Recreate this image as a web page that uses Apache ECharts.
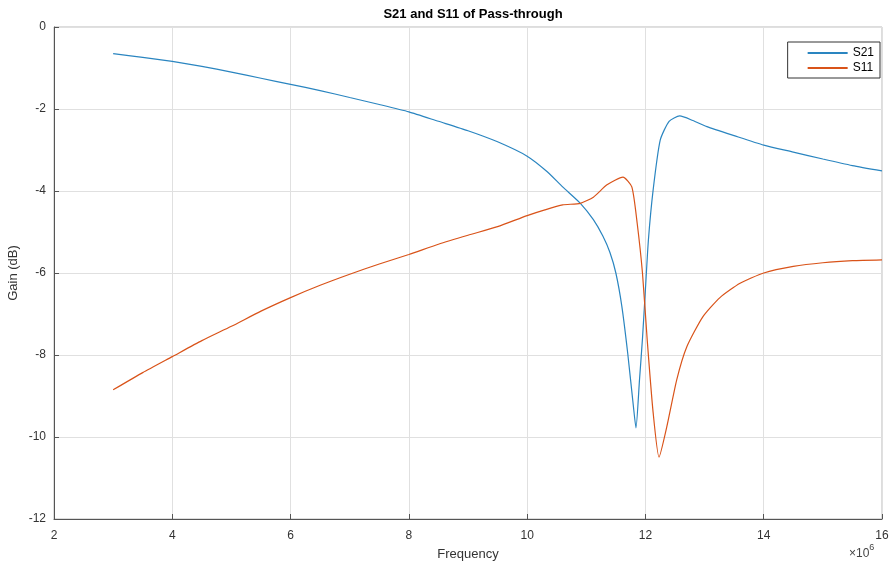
<!DOCTYPE html>
<html>
<head>
<meta charset="utf-8">
<script src="https://cdn.jsdelivr.net/npm/echarts@6/dist/echarts.min.js"></script>
<style>html,body{margin:0;padding:0;background:#fff}#c{width:890px;height:568px}</style>
</head>
<body>
<div id="c"></div>
<script>
// Frequency in units of 10^6
const freqS21 = [3,3.5,4,4.5,5,5.5,6,6.5,7,7.5,8,8.5,9,9.5,10,10.34,10.6,10.9,11.12,11.28,11.4,11.5,11.6,11.7,11.8,11.84,11.9,11.95,12.0,12.05,12.13,12.25,12.4,12.58,12.8,13.04,13.5,14,14.5,15,15.5,16];
const gainS21 = [-0.65,-0.74,-0.84,-0.96,-1.1,-1.25,-1.40,-1.55,-1.72,-1.89,-2.07,-2.3,-2.53,-2.8,-3.15,-3.53,-3.9,-4.3,-4.7,-5.1,-5.5,-6.0,-6.8,-7.95,-9.3,-9.78,-8.6,-7.6,-6.4,-5.2,-3.98,-2.76,-2.3,-2.17,-2.28,-2.43,-2.65,-2.88,-3.05,-3.22,-3.38,-3.51];
const freqS11 = [3,3.5,4,4.5,5,5.5,6,6.5,7,7.5,8,8.5,9,9.5,10,10.3,10.6,10.9,11.12,11.35,11.62,11.77,11.86,11.95,12.03,12.13,12.23,12.36,12.53,12.7,12.97,13.26,13.6,14,14.5,15,15.5,16];
const gainS11 = [-8.85,-8.43,-8.04,-7.65,-7.3,-6.93,-6.6,-6.3,-6.03,-5.78,-5.55,-5.3,-5.08,-4.87,-4.6,-4.46,-4.34,-4.3,-4.15,-3.85,-3.66,-3.9,-4.78,-6.0,-7.63,-9.4,-10.49,-9.76,-8.6,-7.8,-7.07,-6.6,-6.25,-6.0,-5.84,-5.75,-5.7,-5.68];
const xTicks = [2,4,6,8,10,12,14,16];
const yTicks = [-12,-10,-8,-6,-4,-2,0];

const chart = echarts.init(document.getElementById('c'));
const ff = '"Liberation Sans", Arial, sans-serif';
chart.setOption({
  animation: false,
  backgroundColor: '#fff',
  title: {
    text: 'S21 and S11 of Pass-through',
    left: 468, top: 3, textAlign: 'center',
    textStyle: {fontFamily: ff, fontSize: 13, fontWeight: 'bold', color: '#000'}
  },
  legend: {
    orient: 'vertical', right: 10, top: 42,
    borderColor: '#333', borderWidth: 1, backgroundColor: '#fff',
    padding: [5, 6, 4, 20], itemGap: 3,
    itemWidth: 40, itemHeight: 2, icon: 'rect',
    textStyle: {fontFamily: ff, fontSize: 12, color: '#000'},
    data: ['S21', 'S11']
  },
  grid: {left: 54, right: 8, top: 27, bottom: 49, outerBoundsMode: 'none', containLabel: false,
         show: true, borderColor: '#bbb', borderWidth: 1},
  xAxis: {
    type: 'value', min: 2, max: 16, interval: 2,
    name: 'Frequency', nameLocation: 'middle', nameGap: 29, nameMoveOverlap: false,
    nameTextStyle: {fontFamily: ff, fontSize: 13, color: '#333'},
    axisLine: {show: true, onZero: false, lineStyle: {color: '#555'}},
    axisTick: {inside: true, length: 5, lineStyle: {color: '#555'}},
    axisLabel: {fontFamily: ff, fontSize: 12, color: '#333', margin: 11,
      formatter: v => xTicks.includes(v) ? String(v) : ''},
    splitLine: {show: true, lineStyle: {color: '#e0e0e0'}}
  },
  yAxis: {
    type: 'value', min: -12, max: 0, interval: 2,
    name: 'Gain (dB)', nameLocation: 'middle', nameGap: 34, nameMoveOverlap: false,
    nameTextStyle: {fontFamily: ff, fontSize: 13, color: '#333'},
    axisLine: {show: true, onZero: false, lineStyle: {color: '#555'}},
    axisTick: {inside: true, length: 5, lineStyle: {color: '#555'}},
    axisLabel: {fontFamily: ff, fontSize: 12, color: '#333', margin: 8,
      formatter: v => yTicks.includes(v) ? String(v) : ''},
    splitLine: {show: true, lineStyle: {color: '#e0e0e0'}}
  },
  graphic: [{
    type: 'text', left: 849, top: 543,
    style: {
      text: '{a|×10}{b|6}', fill: '#444',
      rich: {a: {fontFamily: ff, fontSize: 12, color: '#444', verticalAlign: 'bottom'},
             b: {fontFamily: ff, fontSize: 9, color: '#444', verticalAlign: 'top', padding: [0,0,8,0]}}
    }
  }],
  series: [
    {name: 'S21', type: 'line', showSymbol: false, smooth: 0.2,
     data: freqS21.map((f, i) => [f, gainS21[i]]),
     lineStyle: {color: '#2a85c0', width: 1.2}, itemStyle: {color: '#2a85c0'}},
    {name: 'S11', type: 'line', showSymbol: false, smooth: 0.2,
     data: freqS11.map((f, i) => [f, gainS11[i]]),
     lineStyle: {color: '#d95319', width: 1.2}, itemStyle: {color: '#d95319'}}
  ]
});
</script>
</body>
</html>
